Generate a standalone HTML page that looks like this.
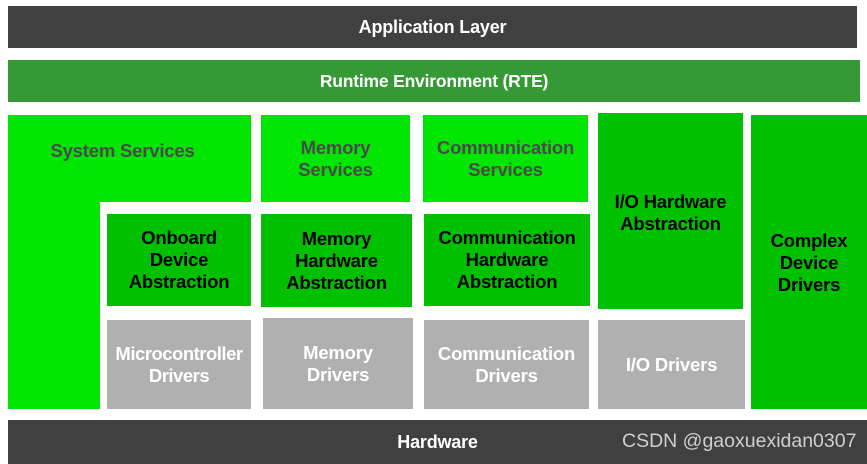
<!DOCTYPE html>
<html><head><meta charset="utf-8"><style>
html,body{margin:0;padding:0;background:#fff;width:867px;height:464px;overflow:hidden;position:relative;font-family:"Liberation Sans",Arial,sans-serif;font-weight:bold}
.b{position:absolute;display:flex;align-items:center;justify-content:center;text-align:center;font-size:18.5px;line-height:22px;box-sizing:border-box;letter-spacing:-0.2px}
.dk{background:#404040;color:#fff}
.g1{background:#00e600;color:#4a4a4a}
.g2{background:#00c000;color:#000}
.gr{background:#b0b0b0;color:#fff}
</style></head><body>
<div class="b dk" style="left:8px;top:6px;width:849px;height:42px;font-size:18px">Application Layer</div>
<div class="b" style="left:8px;top:60px;width:852px;height:42px;background:#359a35;color:#fff;font-size:17.5px">Runtime Environment (RTE)</div>

<div class="b g1" style="left:8px;top:115px;width:243px;height:87px;align-items:flex-start;padding-top:25px;padding-right:14px">System Services</div>
<div class="b g1" style="left:8px;top:200px;width:92px;height:209px"></div>
<div class="b g1" style="left:261px;top:115px;width:149px;height:87px">Memory<br>Services</div>
<div class="b g1" style="left:423px;top:115px;width:165px;height:87px">Communication<br>Services</div>

<div class="b g2" style="left:107px;top:214px;width:144px;height:92px">Onboard<br>Device<br>Abstraction</div>
<div class="b g2" style="left:261px;top:214px;width:151px;height:93px">Memory<br>Hardware<br>Abstraction</div>
<div class="b g2" style="left:424px;top:214px;width:166px;height:92px">Communication<br>Hardware<br>Abstraction</div>
<div class="b g2" style="left:598px;top:113px;width:145px;height:196px;padding-bottom:0px;padding-top:4px">I/O Hardware<br>Abstraction</div>
<div class="b g2" style="left:751px;top:115px;width:116px;height:294px;padding-top:2px">Complex<br>Device<br>Drivers</div>

<div class="b gr" style="left:107px;top:320px;width:144px;height:89px;letter-spacing:-0.5px">Microcontroller<br>Drivers</div>
<div class="b gr" style="left:263px;top:318px;width:150px;height:91px">Memory<br>Drivers</div>
<div class="b gr" style="left:424px;top:320px;width:165px;height:89px">Communication<br>Drivers</div>
<div class="b gr" style="left:598px;top:320px;width:147px;height:89px">I/O Drivers</div>

<div class="b dk" style="left:8px;top:420px;width:859px;height:44px;font-size:18px">Hardware</div>
<div style="position:absolute;left:622px;top:430px;font-weight:normal;font-size:19.5px;color:#cfcfcf;white-space:nowrap">CSDN @gaoxuexidan0307</div>
</body></html>
